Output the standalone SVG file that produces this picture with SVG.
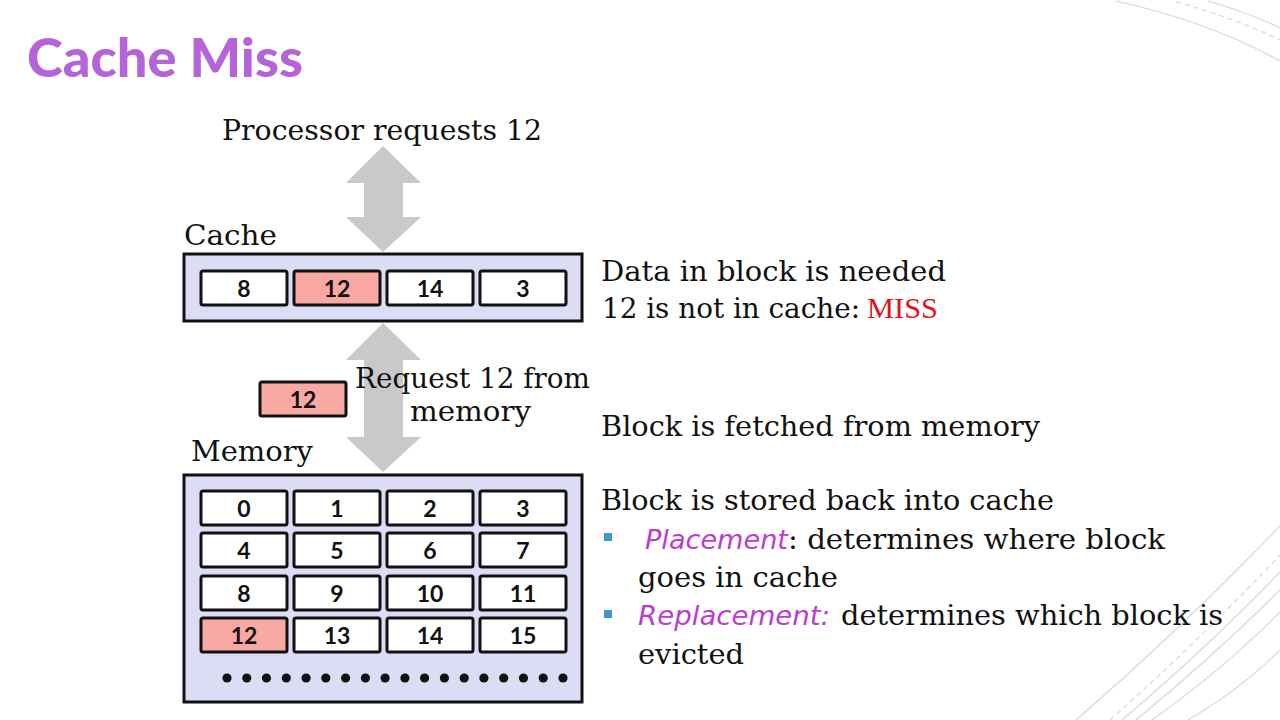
<svg xmlns="http://www.w3.org/2000/svg" width="1280" height="720" viewBox="0 0 1280 720">
  <style>
    .title { font-family: "Lato", "DejaVu Sans", sans-serif; font-weight: 900; font-size: 54px; fill: #B463D8; }
    .slab { font-family: "DejaVu Serif", "Liberation Serif", serif; font-size: 28px; fill: #111; }
    .miss { font-family: "Liberation Serif", serif; font-size: 29px; fill: #E3121B; }
    .term { font-family: "DejaVu Sans", "Open Sans", sans-serif; font-style: italic; font-size: 27px; fill: #BC3BD0; }
    .box { fill: #DCDCF4; stroke: #111; stroke-width: 3; }
    .cell { fill: #FFFFFF; stroke: #111; stroke-width: 3; }
    .hit { fill: #F9A9A3; }
    .num { font-family: "Lato", "Open Sans", sans-serif; font-weight: bold; font-size: 23px; fill: #111; text-anchor: middle; }
    .arrow { fill: #C9C9C9; }
    .deco { fill: none; stroke: #D6D6D6; stroke-width: 1.2; }
    .deco-dash { fill: none; stroke: #D6D6D6; stroke-width: 1.2; stroke-dasharray: 5 4; }
    .bullet { fill: #3C9AD2; }
  </style>
  <defs>
    <rect id="c" width="86" height="34" rx="2"/>
  </defs>

  <rect width="1280" height="720" fill="#FFFFFF"/>

  <!-- corner ornaments -->
  <g id="ornament-top">
    <path class="deco" d="M1116,1 Q1210,22 1280,61"/>
    <path class="deco-dash" d="M1176,2 Q1235,18 1280,40"/>
    <path class="deco" d="M1208,1 Q1250,13 1280,28"/>
  </g>
  <g id="ornament-bottom">
    <path class="deco" d="M1076,720 Q1180,630 1280,526"/>
    <path class="deco-dash" d="M1110,720 Q1200,640 1280,555"/>
    <path class="deco" d="M1122,720 Q1210,645 1280,572"/>
    <path class="deco" d="M1136,720 Q1215,655 1280,590"/>
    <path class="deco" d="M1152,720 Q1225,668 1280,612"/>
    <path class="deco" d="M1188,720 Q1240,690 1280,650"/>
  </g>

  <text class="title" x="27" y="77" textLength="276" lengthAdjust="spacingAndGlyphs">Cache Miss</text>

  <!-- connectors -->
  <g id="connectors">
    <path class="arrow" d="M383,146 L421,183 L403,183 L403,217 L421,217 L383,252 L346,217 L364,217 L364,183 L346,183 Z"/>
    <path class="arrow" d="M383,323 L421,360 L403,360 L403,437 L421,437 L383,472 L346,437 L364,437 L364,360 L346,360 Z"/>
  </g>

  <g id="processor">
    <text class="slab" x="222" y="140" textLength="320" lengthAdjust="spacingAndGlyphs">Processor requests 12</text>
  </g>

  <g id="cache">
    <text class="slab" x="184" y="245" textLength="93" lengthAdjust="spacingAndGlyphs">Cache</text>
    <rect class="box" x="184" y="254" width="398" height="67"/>
    <use href="#c" class="cell" x="201" y="271"/>
    <use href="#c" class="cell hit" x="294" y="271"/>
    <use href="#c" class="cell" x="387" y="271"/>
    <use href="#c" class="cell" x="480" y="271"/>
    <text class="num" x="244" y="297">8</text>
    <text class="num" x="337" y="297">12</text>
    <text class="num" x="430" y="297">14</text>
    <text class="num" x="523" y="297">3</text>
  </g>

  <g id="fetched-block">
    <rect class="cell hit" x="260" y="382" width="86" height="34" rx="2"/>
    <text class="num" x="303" y="408">12</text>
  </g>

  <g id="request-label">
    <text class="slab" x="355" y="388" textLength="235" lengthAdjust="spacingAndGlyphs">Request 12 from</text>
    <text class="slab" x="410" y="421" textLength="121" lengthAdjust="spacingAndGlyphs">memory</text>
  </g>

  <g id="memory">
    <text class="slab" x="191" y="461" textLength="122" lengthAdjust="spacingAndGlyphs">Memory</text>
    <rect class="box" x="184" y="475" width="398" height="227"/>
    <use href="#c" class="cell" x="201" y="491"/>
    <use href="#c" class="cell" x="294" y="491"/>
    <use href="#c" class="cell" x="387" y="491"/>
    <use href="#c" class="cell" x="480" y="491"/>
    <use href="#c" class="cell" x="201" y="533"/>
    <use href="#c" class="cell" x="294" y="533"/>
    <use href="#c" class="cell" x="387" y="533"/>
    <use href="#c" class="cell" x="480" y="533"/>
    <use href="#c" class="cell" x="201" y="576"/>
    <use href="#c" class="cell" x="294" y="576"/>
    <use href="#c" class="cell" x="387" y="576"/>
    <use href="#c" class="cell" x="480" y="576"/>
    <use href="#c" class="cell hit" x="201" y="618"/>
    <use href="#c" class="cell" x="294" y="618"/>
    <use href="#c" class="cell" x="387" y="618"/>
    <use href="#c" class="cell" x="480" y="618"/>
    <text class="num" x="244" y="517">0</text>
    <text class="num" x="337" y="517">1</text>
    <text class="num" x="430" y="517">2</text>
    <text class="num" x="523" y="517">3</text>
    <text class="num" x="244" y="559">4</text>
    <text class="num" x="337" y="559">5</text>
    <text class="num" x="430" y="559">6</text>
    <text class="num" x="523" y="559">7</text>
    <text class="num" x="244" y="602">8</text>
    <text class="num" x="337" y="602">9</text>
    <text class="num" x="430" y="602">10</text>
    <text class="num" x="523" y="602">11</text>
    <text class="num" x="244" y="644">12</text>
    <text class="num" x="337" y="644">13</text>
    <text class="num" x="430" y="644">14</text>
    <text class="num" x="523" y="644">15</text>
    <g fill="#111">
      <circle cx="227" cy="678" r="4.6"/>
      <circle cx="246.8" cy="678" r="4.6"/>
      <circle cx="266.5" cy="678" r="4.6"/>
      <circle cx="286.3" cy="678" r="4.6"/>
      <circle cx="306.1" cy="678" r="4.6"/>
      <circle cx="325.8" cy="678" r="4.6"/>
      <circle cx="345.6" cy="678" r="4.6"/>
      <circle cx="365.4" cy="678" r="4.6"/>
      <circle cx="385.1" cy="678" r="4.6"/>
      <circle cx="404.9" cy="678" r="4.6"/>
      <circle cx="424.6" cy="678" r="4.6"/>
      <circle cx="444.4" cy="678" r="4.6"/>
      <circle cx="464.2" cy="678" r="4.6"/>
      <circle cx="483.9" cy="678" r="4.6"/>
      <circle cx="503.7" cy="678" r="4.6"/>
      <circle cx="523.5" cy="678" r="4.6"/>
      <circle cx="543.2" cy="678" r="4.6"/>
      <circle cx="563" cy="678" r="4.6"/>
    </g>
  </g>

  <!-- explanatory notes -->
  <g id="notes">
    <text class="slab" x="601" y="281" textLength="345" lengthAdjust="spacingAndGlyphs">Data in block is needed</text>
    <text class="slab" x="602" y="318" textLength="258" lengthAdjust="spacingAndGlyphs">12 is not in cache:</text>
    <text class="miss" x="867" y="318" textLength="71" lengthAdjust="spacingAndGlyphs">MISS</text>
    <text class="slab" x="601" y="436" textLength="439" lengthAdjust="spacingAndGlyphs">Block is fetched from memory</text>
    <text class="slab" x="601" y="510" textLength="453" lengthAdjust="spacingAndGlyphs">Block is stored back into cache</text>
    <rect class="bullet" x="604" y="533" width="8" height="8"/>
    <text class="term" x="645" y="549" textLength="143" lengthAdjust="spacingAndGlyphs">Placement</text>
    <text class="slab" x="788" y="549" textLength="377" lengthAdjust="spacingAndGlyphs">: determines where block</text>
    <text class="slab" x="638" y="587" textLength="200" lengthAdjust="spacingAndGlyphs">goes in cache</text>
    <rect class="bullet" x="604" y="610" width="8" height="8"/>
    <text class="term" x="638" y="625" textLength="192" lengthAdjust="spacingAndGlyphs">Replacement:</text>
    <text class="slab" x="841" y="625" textLength="382" lengthAdjust="spacingAndGlyphs">determines which block is</text>
    <text class="slab" x="638" y="664" textLength="106" lengthAdjust="spacingAndGlyphs">evicted</text>
  </g>
</svg>
